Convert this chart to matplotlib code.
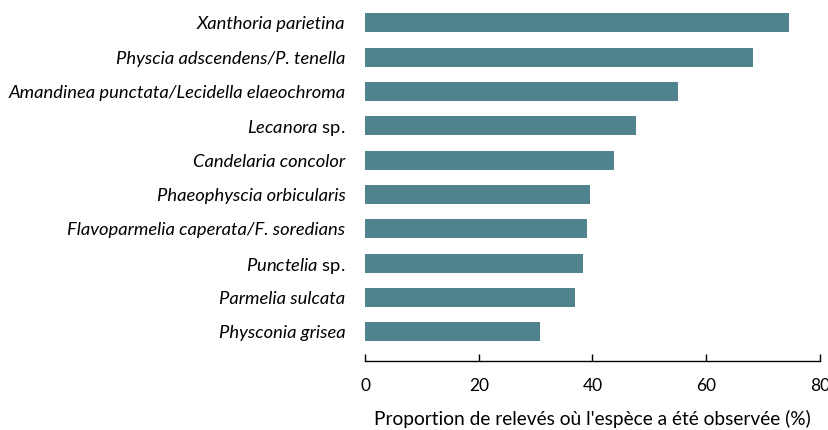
import matplotlib.pyplot as plt

plt.rcParams['font.family'] = ['Lato', 'DejaVu Sans']
plt.rcParams['mathtext.fontset'] = 'custom'
plt.rcParams['mathtext.rm'] = 'Lato'
plt.rcParams['mathtext.it'] = 'Lato:italic'

# species names (top to bottom) and share of surveys where observed (%)
species = ["Xanthoria parietina",
           "Physcia adscendens/P. tenella",
           "Amandinea punctata/Lecidella elaeochroma",
           "Lecanora",
           "Candelaria concolor",
           "Phaeophyscia orbicularis",
           "Flavoparmelia caperata/F. soredians",
           "Punctelia",
           "Parmelia sulcata",
           "Physconia grisea"]
genus_only = [False, False, False, True, False, False, False, True, False, False]
proportion = [74.5, 68.3, 55.0, 47.7, 43.7, 39.6, 39.0, 38.3, 37.0, 30.8]

xticks = [0, 20, 40, 60, 80]

fig = plt.figure(figsize=(8.29, 4.30), dpi=100)
ax = fig.add_axes([0.4403, 0.1605, 0.5488, 0.8344])

pos = list(range(len(species)))
ax.barh(pos, proportion, height=0.55, color='#51838F')

ax.set_ylim(9.85, -0.6)
ax.set_xlim(0, 80)
ax.set_xticks(xticks)

labels = []
for name, sp in zip(species, genus_only):
    if sp:
        labels.append("$\\mathit{" + name + "}$ sp.")
    else:
        labels.append(name)
ax.set_yticks(pos)
ax.set_yticklabels(labels, fontsize=13.2)
for lab, sp in zip(ax.get_yticklabels(), genus_only):
    if not sp:
        lab.set_fontstyle('italic')

ax.tick_params(axis='y', length=0, pad=14)
ax.tick_params(axis='x', direction='in', length=5, width=1, pad=12, labelsize=12.5)

for s in ['top', 'right', 'left']:
    ax.spines[s].set_visible(False)
ax.spines['bottom'].set_linewidth(1)

ax.set_xlabel("Proportion de relevés où l'espèce a été observée (%)", fontsize=13.8, labelpad=12)

fig.savefig("out.png", dpi=100)
